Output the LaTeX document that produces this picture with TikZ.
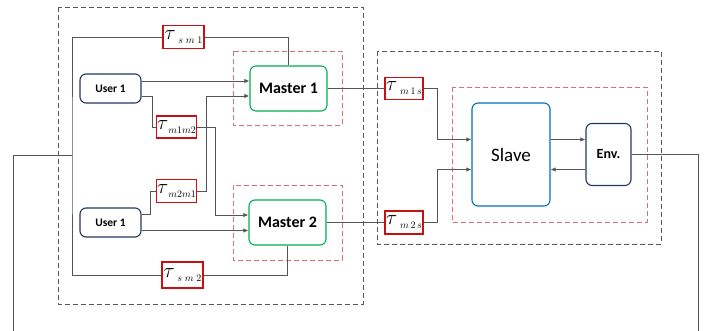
\documentclass[tikz,border=0pt]{standalone}
\usepackage{fontspec}
\setmainfont{Carlito}
\usepackage{xcolor}
\usetikzlibrary{arrows.meta,positioning,calc}
\definecolor{navyline}{RGB}{31,56,100}
\definecolor{mastergreen}{RGB}{0,176,80}
\definecolor{slaveblue}{RGB}{0,112,192}
\definecolor{delayred}{RGB}{200,16,16}
\definecolor{zonered}{RGB}{228,110,110}
\definecolor{zonegray}{RGB}{90,90,90}
\definecolor{wiregray}{RGB}{85,85,85}
% big tau with a small lowered index
\newcommand{\taudelay}[1]{{\fontsize{20.74}{24}\selectfont$\tau$}\raisebox{-4pt}{\fontsize{10}{12}\selectfont$#1$}}

\begin{document}
\begin{tikzpicture}[x=1pt, y=-1pt,
  box/.style={draw, rounded corners=6pt, align=center, line width=1.1pt, fill=white, inner sep=0pt},
  user/.style={box, draw=navyline, minimum width=61pt, minimum height=29pt, font=\bfseries\fontsize{11.5}{13}\selectfont},
  master/.style={box, draw=mastergreen, minimum width=77pt, minimum height=45pt, font=\bfseries\fontsize{16}{18}\selectfont},
  delay/.style={draw=delayred, line width=1.1pt, minimum width=38pt, minimum height=23pt, inner sep=1pt, fill=white},
  group/.style={draw=zonegray, line width=0.8pt, dash pattern=on 5pt off 3pt},
  zone/.style={draw=zonered, line width=0.8pt, dash pattern=on 5pt off 3pt},
  link/.style={draw=wiregray, line width=0.9pt},
  arrow/.style={link, -{Latex[length=5pt,width=4.5pt]}}
]
\useasboundingbox (0,0) rectangle (718,331);

% dashed groups
\draw[group] (58,7) rectangle (363,304);
\draw[group] (377,51) rectangle (661,244);
\draw[zone] (233,51) rectangle (342,125);
\draw[zone] (233,185) rectangle (342,260);
\draw[zone] (452,87) rectangle (647,222);

% masters and users
\node[master] (master1) at (288.5,88.5) {Master 1};
\node[master] (master2) at (287.5,222.5) {Master 2};
\node[user] (user1a) at (110.5,88.5) {User 1};
\node[user] (user1b) at (110.5,222.5) {User 1};

% delays
\node[delay, minimum width=41pt] (tsm1) at (183.5,37) {\taudelay{\;s\;m\;1}};
\node[delay, minimum width=41pt, minimum height=26pt] (tsm2) at (182.5,275) {\taudelay{\;s\;m\;2}};
\node[delay, minimum width=37pt, minimum height=22pt] (tm1m2) at (176.5,127) {\taudelay{m1m2}};
\node[delay, minimum width=37pt] (tm2m1) at (176.5,191) {\taudelay{m2m1}};
\node[delay, minimum height=22pt] (tm1s) at (404,88.5) {\taudelay{\;m\,1\,s}};
\node[delay] (tm2s) at (404,222.5) {\taudelay{\;m\,2\,s}};

% slave side
\node[box, draw=slaveblue, minimum width=78pt, minimum height=103pt, font=\fontsize{19}{22}\selectfont] (slave) at (511,154.5) {Slave};
\node[box, draw=navyline, minimum width=45pt, minimum height=62pt, font=\bfseries\fontsize{14}{16}\selectfont] (env) at (608.5,154.5) {Env.};

\coordinate (busL) at (72,155);
\coordinate (outL) at (13,331);
\coordinate (outR) at (698,331);

% feedback loop
\draw[link] (master1.north) |- (tsm1.east);
\draw[link] (tsm1.west) -| (busL) |- (tsm2.west);
\draw[link] (tsm2.east) -| (master2.south);
\draw[link] (busL) -| (outL);

% users to masters
\draw[arrow] ([yshift=7.5pt]user1a.east) -- ([yshift=7.5pt]master1.west);
\draw[link] ([yshift=-7.5pt]user1a.east) -- ++(11,0) |- (tm1m2.west);
\draw[arrow] (tm1m2.east) -- ++(18,0) |- ([yshift=7.5pt]master2.west);
\draw[link] ([yshift=8pt]user1b.east) -- ++(9,0) |- (tm2m1.west);
\draw[arrow] (tm2m1.east) -- ++(9,0) |- ([yshift=-7.5pt]master1.west);
\draw[arrow] ([yshift=-8pt]user1b.east) -- ([yshift=-8pt]master2.west);

% masters to slave
\draw[link] (master1.east) -- (tm1s.west);
\draw[link] (master2.east) -- (tm2s.west);
\draw[arrow] (tm1s.east) -- ++(14,0) |- ([yshift=15pt]slave.west);
\draw[arrow] (tm2s.east) -- ++(14,0) |- ([yshift=-15pt]slave.west);
\draw[arrow] ([yshift=15pt]slave.east) -- ([yshift=15pt]env.west);
\draw[arrow] ([yshift=-15pt]env.west) -- ([yshift=-15pt]slave.east);
\draw[link] (env.east) -| (outR);
\end{tikzpicture}
\end{document}
